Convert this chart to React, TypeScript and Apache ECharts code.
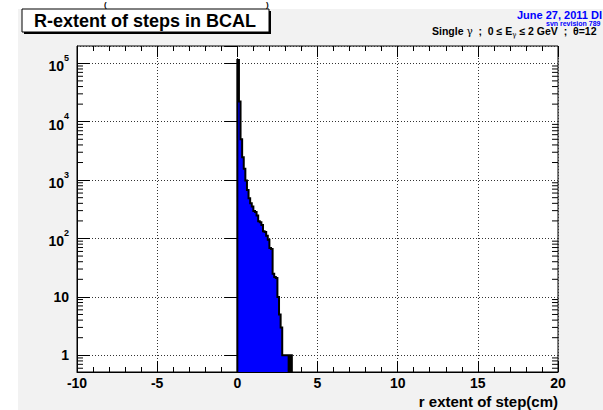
import React, { useEffect, useRef } from 'react';
import * as echarts from 'echarts';

// ---- data ----
const binStart = 0; // cm
const binWidth = 0.1; // cm
const counts = [
  114000, 22200, 5030, 2470, 1560, 980, 680, 490, 403, 352,
  295, 285, 248, 197, 190, 171, 133, 129, 111, 95,
  69, 66, 25, 22, 21, 10, 5, 3, 1, 1,
  1, 1, 0, 1,
];
const xTickLabels = ['-10', '-5', '0', '5', '10', '15', '20'];
const xMin = -10;
const xMax = 20;
const yMin = 0.517;
const yMax = 198000;
const yMinorTicks = [
  0.6, 0.7, 0.8, 0.9,
  2, 3, 4, 5, 6, 7, 8, 9,
  20, 30, 40, 50, 60, 70, 80, 90,
  200, 300, 400, 500, 600, 700, 800, 900,
  2000, 3000, 4000, 5000, 6000, 7000, 8000, 9000,
  20000, 30000, 40000, 50000, 60000, 70000, 80000, 90000,
];
const titleText = 'R-extent of steps in BCAL';
const xTitle = 'r extent of step(cm)';

const FONT = '"Liberation Sans", Arial, Helvetica, sans-serif';

export default function App() {
  const ref = useRef<HTMLDivElement>(null);

  useEffect(() => {
    if (!ref.current) return;
    const chart = echarts.init(ref.current, undefined, { renderer: 'svg' });

    const histData = counts.map((c, i) => [
      binStart + i * binWidth,
      binStart + (i + 1) * binWidth,
      c,
    ]);

    const labelStyle = {
      color: '#000',
      fontFamily: FONT,
      fontWeight: 'bold' as const,
      fontSize: 14,
    };

    const option: any = {
      animation: false,
      backgroundColor: '#ffffff',
      grid: {
        left: 77,
        top: 46,
        width: 481,
        height: 326,
        show: true,
        backgroundColor: '#ffffff',
        borderColor: '#000',
        borderWidth: 1,
        containLabel: false,
        outerBoundsMode: 'none',
      },
      xAxis: [
        {
          type: 'value',
          min: xMin,
          max: xMax,
          interval: 5,
          position: 'bottom',
          axisLine: { show: true, onZero: false, lineStyle: { color: '#000', width: 1 } },
          axisTick: { show: true, inside: true, length: 11, lineStyle: { color: '#000', width: 1 } },
          minorTick: { show: true, splitNumber: 5, length: 5, lineStyle: { color: '#000', width: 1 } },
          splitLine: { show: true, lineStyle: { color: '#333', width: 1, type: [1, 2] } },
          axisLabel: {
            ...labelStyle,
            margin: 4,
            formatter: (v: number) => {
              const idx = Math.round((v - xMin) / 5);
              return xTickLabels[idx] ?? '';
            },
          },
          name: xTitle,
          nameLocation: 'end',
          nameGap: 0,
          nameTextStyle: {
            ...labelStyle,
            fontSize: 15,
            align: 'right',
            verticalAlign: 'top',
            padding: [22, 0, 0, 0],
          },
        },
        {
          type: 'value',
          min: xMin,
          max: xMax,
          interval: 5,
          position: 'top',
          axisLine: { show: false },
          axisTick: { show: true, inside: true, length: 11, lineStyle: { color: '#000', width: 1 } },
          minorTick: { show: true, splitNumber: 5, length: 5, lineStyle: { color: '#000', width: 1 } },
          splitLine: { show: false },
          axisLabel: { show: false },
        },
      ],
      yAxis: [
        {
          type: 'log',
          logBase: 10,
          min: yMin,
          max: yMax,
          position: 'left',
          axisLine: { show: true, onZero: false, lineStyle: { color: '#000', width: 1 } },
          axisTick: { show: true, inside: true, length: 13, lineStyle: { color: '#000', width: 1 } },
          minorTick: { show: false },
          splitLine: { show: true, lineStyle: { color: '#333', width: 1, type: [1, 2] } },
          axisLabel: {
            ...labelStyle,
            margin: 8,
            showMinLabel: false,
            showMaxLabel: false,
            formatter: (v: number) => {
              const lg = Math.log10(v);
              const e = Math.round(lg);
              if (Math.abs(lg - e) > 1e-6) return '';
              if (e === 0) return '1';
              if (e === 1) return '10';
              return `{b|10}{s|${e}}`;
            },
            rich: {
              b: { ...labelStyle, fontSize: 14, verticalAlign: 'bottom', lineHeight: 20 },
              s: { ...labelStyle, fontSize: 9, verticalAlign: 'top', lineHeight: 20 },
            },
          },
        },
        {
          type: 'log',
          logBase: 10,
          min: yMin,
          max: yMax,
          position: 'right',
          axisLine: { show: false },
          axisTick: { show: true, inside: true, length: 13, lineStyle: { color: '#000', width: 1 } },
          minorTick: { show: false },
          splitLine: { show: false },
          axisLabel: { show: false },
        },
      ],
      series: [
        {
          type: 'custom',
          name: 'histogram',
          xAxisIndex: 0,
          yAxisIndex: 0,
          encode: { x: [0, 1], y: 2 },
          data: histData,
          clip: true,
          silent: true,
          renderItem: (params: any, api: any) => {
            if (params.dataIndex !== 0) return null;
            const cs = params.coordSys;
            const bottom = cs.y + cs.height;
            const yOf = (val: number) => {
              if (!(val > 0)) return bottom;
              const y = api.coord([0, val])[1];
              return Math.max(cs.y, Math.min(bottom, y));
            };
            const pts: number[][] = [];
            let prevY = bottom;
            let lastX = 0;
            histData.forEach(([x0, x1, c]) => {
              const p0 = api.coord([x0, 1])[0];
              const p1 = api.coord([x1, 1])[0];
              const y = yOf(c);
              pts.push([p0, prevY]);
              pts.push([p0, y]);
              pts.push([p1, y]);
              prevY = y;
              lastX = p1;
            });
            pts.push([lastX, bottom]);
            return {
              type: 'group',
              children: [
                {
                  type: 'polygon',
                  shape: { points: pts },
                  style: { fill: '#0000ff', stroke: 'none' },
                },
                {
                  type: 'polyline',
                  shape: { points: pts },
                  style: { stroke: '#000', lineWidth: 2, fill: 'none' },
                },
              ],
            };
          },
          z: 3,
        },
        {
          type: 'custom',
          name: 'yMinorTicks',
          xAxisIndex: 0,
          yAxisIndex: 0,
          encode: { x: 0, y: 1 },
          data: yMinorTicks.map((v) => [xMin, v]),
          silent: true,
          clip: false,
          renderItem: (params: any, api: any) => {
            const v = api.value(1);
            const left = api.coord([xMin, v]);
            const right = api.coord([xMax, v]);
            return {
              type: 'group',
              children: [
                {
                  type: 'line',
                  shape: { x1: left[0], y1: left[1], x2: left[0] + 6, y2: left[1] },
                  style: { stroke: '#000', lineWidth: 1 },
                },
                {
                  type: 'line',
                  shape: { x1: right[0], y1: right[1], x2: right[0] - 6, y2: right[1] },
                  style: { stroke: '#000', lineWidth: 1 },
                },
              ],
            };
          },
          z: 4,
        },
      ],
      graphic: [
        {
          type: 'rect',
          z: -5,
          shape: { x: 18, y: 9, width: 585, height: 401 },
          style: { fill: '#f2f2f2' },
        },
        {
          type: 'text',
          z: 5,
          x: 104,
          y: 0,
          style: { text: '(', font: `bold 8px ${FONT}`, fill: '#000', verticalAlign: 'top' },
        },
        {
          type: 'text',
          z: 5,
          x: 266,
          y: 0,
          style: { text: ')', font: `bold 8px ${FONT}`, fill: '#000', verticalAlign: 'top' },
        },
        {
          type: 'rect',
          z: 5,
          shape: { x: 24, y: 11, width: 247, height: 23 },
          style: { fill: '#000' },
        },
        {
          type: 'rect',
          z: 6,
          shape: { x: 22, y: 9, width: 247, height: 23 },
          style: { fill: '#ffffff', stroke: '#000', lineWidth: 1 },
        },
        {
          type: 'text',
          z: 7,
          x: 145,
          y: 21,
          style: {
            text: titleText,
            font: `bold 18px ${FONT}`,
            fill: '#000',
            align: 'center',
            verticalAlign: 'middle',
          },
        },
        {
          type: 'text',
          z: 7,
          x: 517,
          y: 15,
          style: {
            text: 'June 27, 2011 DI',
            font: `bold 11px ${FONT}`,
            fill: '#0000ff',
            align: 'left',
            verticalAlign: 'middle',
          },
        },
        {
          type: 'text',
          z: 7,
          x: 546,
          y: 23,
          style: {
            text: 'svn revision 789',
            font: `bold 7px ${FONT}`,
            fill: '#0000ff',
            align: 'left',
            verticalAlign: 'middle',
          },
        },
        {
          type: 'text',
          z: 7,
          x: 432,
          y: 31,
          style: {
            text: '{b|Single }{g|γ}{b|  ;  0 ≤ E}{sub|γ}{b| ≤ 2 GeV  ;  θ=12}',
            align: 'left',
            verticalAlign: 'middle',
            rich: {
              b: { font: `bold 10.5px ${FONT}`, fill: '#000', verticalAlign: 'middle', lineHeight: 14 },
              g: { font: `10.5px "DejaVu Serif", serif`, fill: '#000', verticalAlign: 'middle', lineHeight: 14 },
              sub: { font: `7px "DejaVu Serif", serif`, fill: '#000', verticalAlign: 'bottom', lineHeight: 14 },
            },
          },
        },
      ],
    };

    chart.setOption(option);
    return () => {
      chart.dispose();
    };
  }, []);

  return (
    <div
      ref={ref}
      style={{ position: 'fixed', left: 0, top: 0, width: 603, height: 410 }}
    />
  );
}
